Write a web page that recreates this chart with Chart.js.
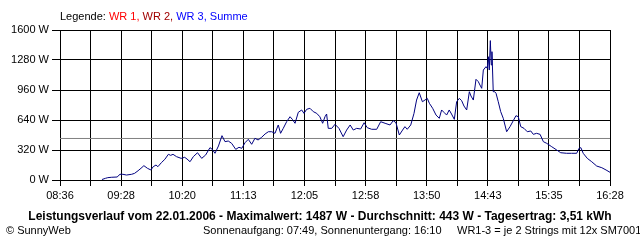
<!DOCTYPE html>
<html>
<head>
<meta charset="utf-8">
<script src="https://cdn.jsdelivr.net/npm/chart.js@4/dist/chart.umd.min.js"></script>
<style>
  body { margin: 0; background: #fff; }
  #wrap { position: relative; width: 640px; height: 240px; font-family: "Liberation Sans", Arial, sans-serif; font-size: 11px; color: #000; }
  #wrap canvas { position: absolute; left: 0; top: 0; }
  .txt { position: absolute; white-space: nowrap; line-height: 12px; }
</style>
</head>
<body>
<div id="wrap">
  <canvas id="chart" width="640" height="240"></canvas>
  <div class="txt" style="left:60px; top:10px;">Legende: <span style="color:#ff0000">WR 1,</span> <span style="color:#a00000">WR 2,</span> <span style="color:#0000ff">WR 3, Summe</span></div>
  <div class="txt" id="title" style="left:0; width:640px; text-align:center; top:210px; font-weight:bold; font-size:12px;"></div>
  <div class="txt" style="left:6px; top:224px;">© SunnyWeb</div>
  <div class="txt" style="left:203px; top:224px;">Sonnenaufgang: 07:49, Sonnenuntergang: 16:10</div>
  <div class="txt" style="left:457px; top:224px;">WR1-3 = je 2 Strings mit 12x SM7001</div>
</div>
<script>
// Zeitachse in Minuten seit Mitternacht (08:36 .. 16:28)
var xMin = 516;
var xMax = 988;
var tickLabels = ["08:36", "09:28", "10:20", "11:13", "12:05", "12:58", "13:50", "14:43", "15:35", "16:28"];

// Leistung Summe (W)
var minutes = [552, 555, 557, 560, 565, 567.5, 570, 573, 577.5, 580, 583, 585.5, 588, 591, 594, 596, 598.4, 600, 603, 606,
  609, 611, 613, 616, 620, 623, 625, 627.6, 630.4, 634, 637.6, 641, 644.7, 646.7, 649, 652, 655, 657.6, 660.4, 663.3,
  666.8, 669.6, 672, 674.8, 677.6, 680.5, 683.3, 686, 689, 692, 694.8, 697.7, 700.5, 703.3, 705.3, 707.6, 710.5, 713.4, 715.4, 717.7,
  720.5, 723.4, 725.4, 727.7, 730.5, 733.4, 736.3, 739, 741.4, 743.4, 744.8, 746.2, 749.2, 752, 755.4, 759, 762, 765, 767.7, 770.6,
  774, 777, 779.7, 783.5, 787.8, 791.2, 795, 799.2, 802, 804.3, 807.2, 810, 812, 814, 817, 819.8, 822, 824.3, 827, 829.2,
  831.2, 833, 835.8, 838.7, 841.5, 843.5, 845.8, 847.8, 850, 852, 854.4, 856.4, 858.7, 860.7, 862.7, 865, 867.3, 868.7, 870.7, 873,
  875, 876.4, 877.9, 879.3, 881.6, 882.7, 883.6, 884.4, 885.3, 886.1, 886.7, 887.8, 889, 890.2, 892.1, 894.2, 896.4, 899.3, 902.2, 905,
  907.3, 909.3, 911.4, 914.2, 917, 920, 922.2, 925, 928, 930.8, 933.7, 938, 942.3, 945.7, 950.8, 955, 959.4, 961.4, 963, 965,
  968.5, 972.3, 976.6, 981, 984.6, 988];
var power = [5, 18, 25, 29, 32, 61, 61, 53, 61, 71, 99, 125, 153, 125, 107, 142, 160, 142, 185, 221,
  274, 263, 274, 249, 231, 242, 224, 195, 249, 291, 231, 267, 345, 327, 285, 363, 473, 409, 416, 391,
  327, 349, 338, 398, 434, 381, 445, 427, 455, 491, 515, 515, 498, 587, 498, 551, 622, 675, 647, 605,
  722, 747, 711, 754, 765, 729, 711, 675, 605, 675, 704, 551, 551, 594, 551, 462, 533, 587, 533, 551,
  544, 611, 558, 541, 541, 622, 605, 587, 633, 611, 480, 533, 569, 541, 587, 711, 853, 931, 835, 853,
  871, 818, 765, 693, 658, 747, 718, 693, 747, 704, 647, 835, 871, 846, 789, 747, 942, 896, 853, 1074,
  1049, 1013, 978, 1173, 1209, 1191, 1315, 1173, 1487, 1227, 1369, 942, 942, 925, 835, 729, 658, 515, 569, 633,
  686, 675, 569, 551, 515, 523, 487, 498, 487, 409, 391, 355, 320, 291, 285, 285, 285, 338, 345, 285,
  231, 195, 149, 131, 107, 82];

var maximalwert = 1487;
var durchschnitt = 443;
var tagesertrag = "3,51";

document.getElementById("title").textContent =
  "Leistungsverlauf vom 22.01.2006 - Maximalwert: " + maximalwert + " W - Durchschnitt: " +
  durchschnitt + " W - Tagesertrag: " + tagesertrag + " kWh";

var powerPoints = minutes.map(function (m, i) { return { x: m, y: power[i] }; });
var avgPoints = [{ x: xMin, y: durchschnitt }, { x: xMax, y: durchschnitt }];

Chart.defaults.font.family = '"Liberation Sans", Arial, sans-serif';
Chart.defaults.font.size = 11;
Chart.defaults.color = "#000";

var ctx = document.getElementById("chart").getContext("2d");
var chart = new Chart(ctx, {
  type: "line",
  data: {
    datasets: [
      {
        label: "Summe",
        data: powerPoints,
        borderColor: "#000080",
        borderWidth: 1,
        pointRadius: 0,
        tension: 0,
        order: 1
      },
      {
        label: "Durchschnitt",
        data: avgPoints,
        borderColor: "#808080",
        borderWidth: 1,
        pointRadius: 0,
        order: 2
      }
    ]
  },
  options: {
    responsive: false,
    animation: false,
    layout: { padding: { left: 0, right: 30, top: 30, bottom: 0 } },
    plugins: { legend: { display: false }, tooltip: { enabled: false } },
    scales: {
      x: {
        type: "linear",
        min: xMin,
        max: xMax,
        afterBuildTicks: function (scale) {
          var t = [];
          for (var i = 0; i <= 18; i++) t.push({ value: xMin + (xMax - xMin) * i / 18 });
          scale.ticks = t;
        },
        afterFit: function (scale) { scale.height = 60; },
        grid: { color: "#000", lineWidth: 1, tickLength: 6 },
        border: { color: "#000" },
        ticks: {
          autoSkip: false,
          maxRotation: 0,
          padding: 3,
          callback: function (value, index) {
            return index % 2 === 0 ? tickLabels[index / 2] : "";
          }
        }
      },
      y: {
        min: 0,
        max: 1600,
        afterFit: function (scale) { scale.width = 60; },
        grid: { color: "#000", lineWidth: 1, tickLength: 8 },
        border: { color: "#000" },
        ticks: {
          stepSize: 320,
          padding: 3,
          callback: function (value) { return value + " W"; }
        }
      }
    }
  }
});
</script>
</body>
</html>
